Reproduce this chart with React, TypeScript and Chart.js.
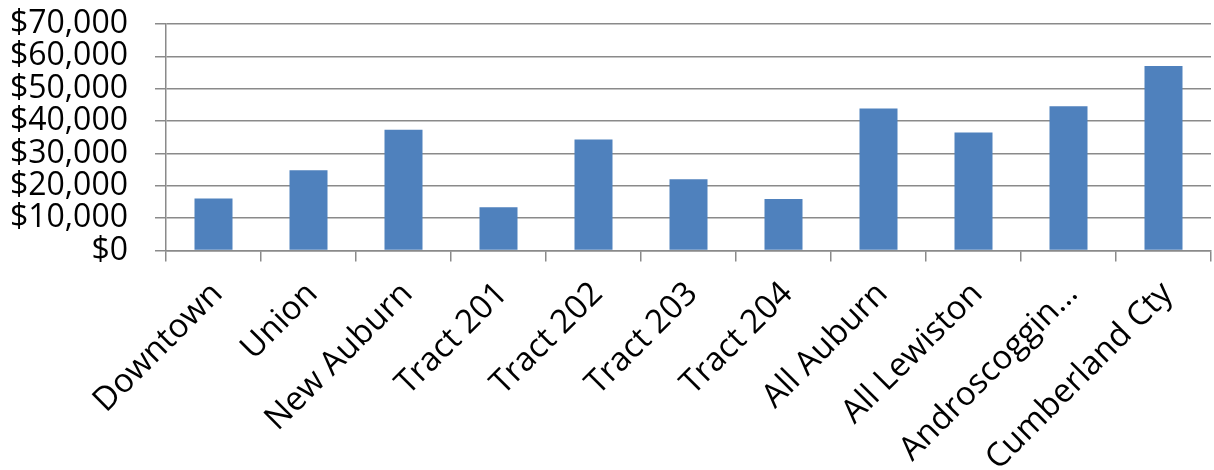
import React, { useEffect, useRef } from "react";
import { Chart, registerables } from "chart.js";

Chart.register(...registerables);

const categories: string[] = [
  "Downtown",
  "Union",
  "New Auburn",
  "Tract 201",
  "Tract 202",
  "Tract 203",
  "Tract 204",
  "All Auburn",
  "All Lewiston",
  "Androscoggin…",
  "Cumberland Cty",
];

const incomeValues: number[] = [
  16100, 24800, 37300, 13400, 34300, 22000, 15900, 43900, 36500, 44600, 57000,
];

const yMin = 0;
const yMax = 70000;
const yStep = 10000;

const FONT = "'Open Sans', 'Noto Sans', sans-serif";
const GRID = "#8a8a8a";

export default function App() {
  const ref = useRef<HTMLCanvasElement | null>(null);

  useEffect(() => {
    if (!ref.current) return;
    const chart = new Chart(ref.current, {
      type: "bar",
      data: {
        labels: categories,
        datasets: [
          {
            label: "Income",
            data: incomeValues,
            backgroundColor: "#4F81BD",
            borderWidth: 0,
            barPercentage: 0.4,
            categoryPercentage: 1,
          },
        ],
      },
      options: {
        responsive: true,
        maintainAspectRatio: false,
        animation: false,
        layout: { padding: { left: 0, right: 3, top: 24, bottom: 0 } },
        plugins: {
          legend: { display: false },
          tooltip: { enabled: false },
        },
        scales: {
          x: {
            grid: {
              display: true,
              drawOnChartArea: false,
              drawTicks: true,
              tickLength: 11,
              color: GRID,
              lineWidth: 1.5,
              offset: true,
            },
            border: { display: true, color: GRID, width: 1.5 },
            ticks: {
              autoSkip: false,
              maxRotation: 45,
              minRotation: 45,
              padding: 13,
              labelOffset: 4,
              color: "#000",
              font: { family: FONT, size: 33 },
            },
            afterFit: (scale: any) => {
              scale.height = 470 - 250.5;
              scale.paddingLeft = 0;
              scale.paddingRight = 0;
            },
          },
          y: {
            min: yMin,
            max: yMax,
            ticks: {
              stepSize: yStep,
              autoSkip: false,
              padding: 27,
              color: "#000",
              font: { family: FONT, size: 32, lineHeight: 1 },
              callback: (v: any) => "$" + Number(v).toLocaleString("en-US"),
            },
            grid: {
              color: GRID,
              lineWidth: 1.5,
              tickLength: 11,
            },
            border: { display: true, color: GRID, width: 1.5 },
            afterFit: (scale: any) => {
              scale.width = 166;
              scale.paddingTop = 0;
              scale.paddingBottom = 0;
            },
          },
        },
      },
    });
    return () => chart.destroy();
  }, []);

  return (
    <div
      style={{
        position: "absolute",
        left: 0,
        top: 0,
        width: 1214,
        height: 470,
        background: "#fff",
      }}
    >
      <canvas ref={ref} />
    </div>
  );
}
